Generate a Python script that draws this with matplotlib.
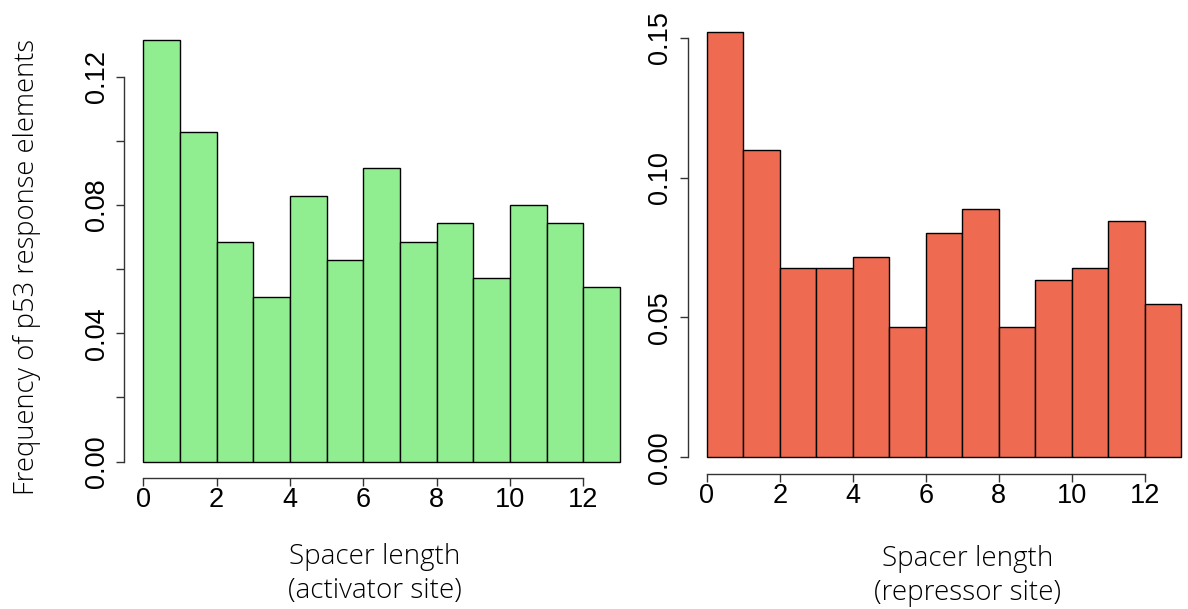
import matplotlib
matplotlib.use("Agg")
import matplotlib.pyplot as plt
import numpy as np

# densities per 1-bp spacer bin (0..13)
breaks = np.arange(0, 14)
activator_density = [0.1314, 0.1029, 0.0686, 0.0514, 0.0829, 0.0629, 0.0914,
                     0.0686, 0.0743, 0.0571, 0.0800, 0.0743, 0.0543]
repressor_density = [0.1519, 0.1097, 0.0675, 0.0675, 0.0717, 0.0464, 0.0802,
                     0.0886, 0.0464, 0.0633, 0.0675, 0.0844, 0.0549]

left_yticks = [0.00, 0.02, 0.04, 0.06, 0.08, 0.10, 0.12]
left_ylabels = ["0.00", "", "0.04", "", "0.08", "", "0.12"]
right_yticks = [0.00, 0.05, 0.10, 0.15]
right_ylabels = ["0.00", "0.05", "0.10", "0.15"]
xticks = [0, 2, 4, 6, 8, 10, 12]

tick_font = "Liberation Sans"
label_font = ["Open Sans", "DejaVu Sans"]

W, H = 1188, 609
fig = plt.figure(figsize=(W / 100, H / 100), dpi=100)


def r_hist(rect, dens, color, yticks, ylabels):
    ax = fig.add_axes(rect)
    ymax = max(dens)
    ax.bar(breaks[:-1], dens, width=1, align="edge", color=color,
           edgecolor="black", linewidth=1.0)
    ax.set_xlim(-0.04 * 13, 13 * 1.04)
    ax.set_ylim(-0.04 * ymax, ymax * 1.04)
    for s in ("top", "right"):
        ax.spines[s].set_visible(False)
    ax.spines["left"].set_bounds(yticks[0], yticks[-1])
    ax.spines["bottom"].set_bounds(xticks[0], xticks[-1])
    for s in ("left", "bottom"):
        ax.spines[s].set_color("#333333")
        ax.spines[s].set_linewidth(1.0)
    ax.set_xticks(xticks)
    ax.set_xticklabels([str(t) for t in xticks], fontfamily=tick_font,
                       fontsize=19.5)
    ax.set_yticks(yticks)
    ax.set_yticklabels(ylabels, fontfamily=tick_font, fontsize=19.5,
                       rotation=90, va="center", ha="right")
    ax.tick_params(axis="both", direction="out", length=6, width=1.0,
                   color="#333333")
    ax.tick_params(axis="x", pad=0)
    ax.tick_params(axis="y", pad=4.5)
    return ax


r_hist([0.1046, 0.2144, 0.4333, 0.7473], activator_density, "#90EE90",
       left_yticks, left_ylabels)
r_hist([0.5789, 0.2213, 0.4314, 0.7534], repressor_density, "#EE6A50",
       right_yticks, right_ylabels)

fig.text(27 / W, 1 - 267 / H, "Frequency of p53 response elements",
         rotation=90, ha="center", va="center", fontsize=19.7,
         family=label_font, fontweight="light", color="black")
fig.text(375 / W, 1 - 574 / H, "Spacer length\n(activator site)",
         ha="center", va="center", fontsize=20, linespacing=1.32,
         family=label_font, fontweight="light", color="black")
fig.text(968 / W, 1 - 576 / H, "Spacer length\n(repressor site)",
         ha="center", va="center", fontsize=20, linespacing=1.32,
         family=label_font, fontweight="light", color="black")

fig.savefig("out.png", dpi=100)
